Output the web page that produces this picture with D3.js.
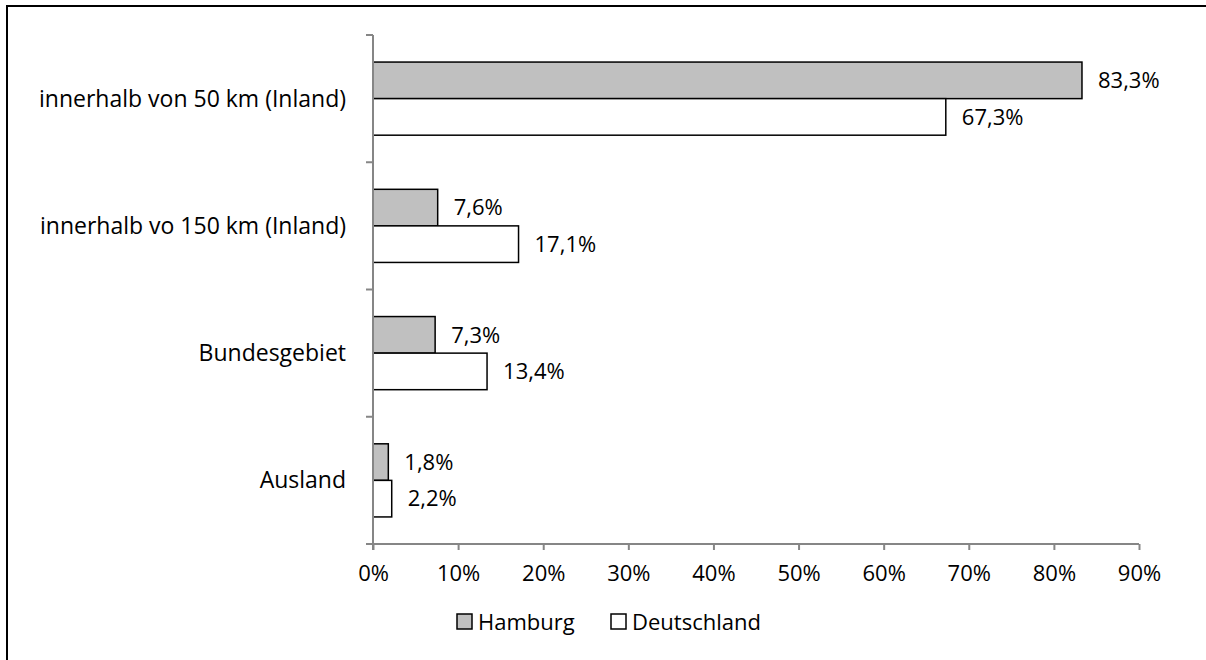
<!DOCTYPE html>
<html><head><meta charset="utf-8">
<script src="https://cdn.jsdelivr.net/npm/d3@7"></script>
<style>body{margin:0;background:#fff}svg{display:block}text{font-family:"Open Sans",sans-serif;fill:#000}</style>
</head><body>
<svg id="c" width="1206" height="660"></svg>
<script>
const categories = ["innerhalb von 50 km (Inland)", "innerhalb vo 150 km (Inland)", "Bundesgebiet", "Ausland"];
const seriesNames = ["Hamburg", "Deutschland"];
const hamburg = [83.3, 7.6, 7.3, 1.8];
const deutschland = [67.3, 17.1, 13.4, 2.2];
const xTicks = [0, 10, 20, 30, 40, 50, 60, 70, 80, 90];
const colors = ["#c0c0c0", "#ffffff"];

const svg = d3.select("#c");
const fmt = v => d3.format(".1f")(v).replace(".", ",") + "%";
const FS = "22px";

svg.append("rect").attr("x", 7).attr("y", 6).attr("width", 1210).attr("height", 670)
  .attr("fill", "none").attr("stroke", "#000").attr("stroke-width", 2);

const x = d3.scaleLinear().domain([0, 90]).range([373, 1139]);
const y = d3.scaleBand().domain(categories).range([35, 544]).padding(0);
const ys = d3.scaleBand().domain(seriesNames).range([0, y.bandwidth()]).paddingInner(0).paddingOuter(0.74);

const data = [hamburg, deutschland];

// bars
seriesNames.forEach((s, si) => {
  const g = svg.append("g");
  g.selectAll("rect").data(data[si]).join("rect")
    .attr("x", x(0)).attr("y", (d, i) => y(categories[i]) + ys(s))
    .attr("width", d => x(d) - x(0)).attr("height", ys.bandwidth())
    .attr("fill", colors[si]).attr("stroke", "#000").attr("stroke-width", 1.5);
  g.selectAll("text").data(data[si]).join("text")
    .attr("x", d => x(d) + 16).attr("y", (d, i) => y(categories[i]) + ys(s) + ys.bandwidth() / 2)
    .attr("dy", "0.35em").style("font-size", FS).text(d => fmt(d));
});

// x axis
const xa = svg.append("g").attr("transform", "translate(0,544)")
  .call(d3.axisBottom(x).tickValues(xTicks).tickSize(6).tickSizeOuter(0).tickFormat(d => d + "%"));
xa.select(".domain").attr("stroke", "#868686").attr("stroke-width", 2).attr("d", "M366,0H1139");
xa.selectAll(".tick line").attr("stroke", "#868686").attr("stroke-width", 2);
xa.selectAll(".tick text").style("font-size", FS).attr("fill", "#000").attr("font-family", "Open Sans").attr("y", 29).attr("dy", "0.35em");

// y axis
const yTickPos = [35].concat(categories.map(c => y(c) + y.bandwidth()));
const ya = svg.append("g");
ya.append("line").attr("x1", 373).attr("x2", 373).attr("y1", 35).attr("y2", 550)
  .attr("stroke", "#868686").attr("stroke-width", 2);
ya.selectAll("line.t").data(yTickPos).join("line").attr("class", "t")
  .attr("x1", 366).attr("x2", 373).attr("y1", d => d).attr("y2", d => d)
  .attr("stroke", "#868686").attr("stroke-width", 2);
ya.selectAll("text").data(categories).join("text")
  .attr("x", 346).attr("y", d => y(d) + y.bandwidth() / 2).attr("dy", "0.35em")
  .attr("text-anchor", "end").style("font-size", "23px").text(d => d);

// legend
const legX = [457, 611];
const lg = svg.append("g");
seriesNames.forEach((s, i) => {
  lg.append("rect").attr("x", legX[i]).attr("y", 614).attr("width", 15).attr("height", 15)
    .attr("fill", colors[i]).attr("stroke", "#000").attr("stroke-width", 1.5);
  lg.append("text").attr("x", legX[i] + 21).attr("y", 622).attr("dy", "0.35em")
    .style("font-size", FS).text(s);
});
</script>
</body></html>
